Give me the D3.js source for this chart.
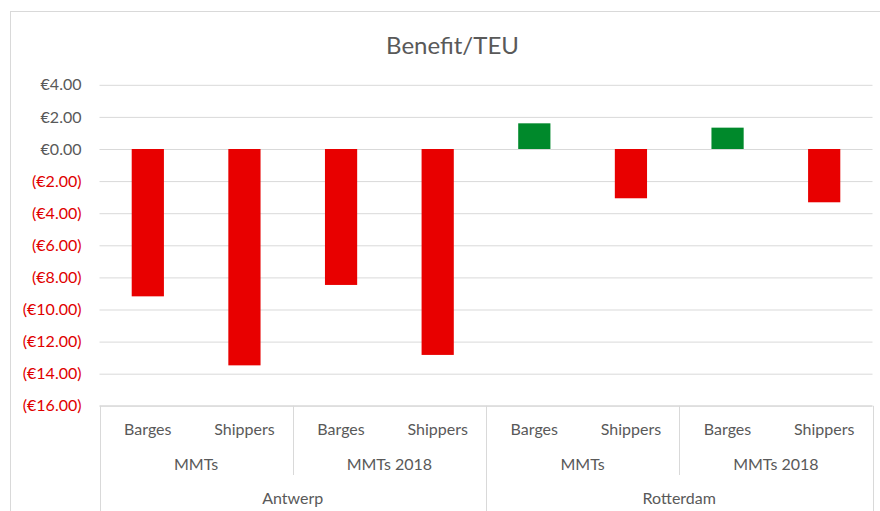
<!DOCTYPE html>
<html>
<head>
<meta charset="utf-8">
<script src="https://cdn.jsdelivr.net/npm/d3@7"></script>
<style>
  html, body { margin: 0; padding: 0; background: #fff; }
  svg { display: block; font-family: Lato, "Open Sans", sans-serif; }
</style>
</head>
<body>
<svg id="chart" width="880" height="511"></svg>
<script>
// ---- data ----
const title = "Benefit/TEU";
const ports = ["Antwerp", "Rotterdam"];
const programs = ["MMTs", "MMTs 2018"];
const actors = ["Barges", "Shippers"];
// values per port -> program -> actor
const antwerpMMTs = [-9.18, -13.48];
const antwerpMMTs2018 = [-8.47, -12.83];
const rotterdamMMTs = [1.60, -3.07];
const rotterdamMMTs2018 = [1.33, -3.32];
const yTicks = [4, 2, 0, -2, -4, -6, -8, -10, -12, -14, -16];

const valueTable = {
  "Antwerp": { "MMTs": antwerpMMTs, "MMTs 2018": antwerpMMTs2018 },
  "Rotterdam": { "MMTs": rotterdamMMTs, "MMTs 2018": rotterdamMMTs2018 }
};

const rows = [];
ports.forEach(p => programs.forEach(g => actors.forEach((a, i) => {
  rows.push({ port: p, program: g, actor: a, key: p + "|" + g + "|" + a, value: valueTable[p][g][i] });
})));

// ---- layout ----
const svg = d3.select("#chart");
const left = 99.5, right = 872.5;
const yTop = 84.8, yBottom = 405.8;
const bottomEdge = 511;

const x = d3.scaleBand()
  .domain(rows.map(d => d.key))
  .range([left, right])
  .paddingInner(2 / 3)
  .paddingOuter(1 / 3);

const y = d3.scaleLinear().domain([-16, 4]).range([yBottom, yTop]);

const gray = "#595959";
const red = "#e00000";
const gridColor = "#d9d9d9";

// chart border
svg.append("rect")
  .attr("x", 10.5).attr("y", 11.5)
  .attr("width", 880).attr("height", 520)
  .attr("fill", "none").attr("stroke", gridColor).attr("stroke-width", 1);

// title
svg.append("text")
  .attr("x", 452.5).attr("y", 53.5)
  .attr("text-anchor", "middle")
  .attr("font-size", 24)
  .attr("fill", gray)
  .text(title);

// y axis with gridlines
const fmt = v => v < 0 ? "(\u20AC" + Math.abs(v).toFixed(2) + ")" : "\u20AC" + v.toFixed(2);
const yAxis = d3.axisLeft(y)
  .tickValues(yTicks)
  .tickSize(-(right - left))
  .tickPadding(18)
  .tickFormat(fmt);

const gy = svg.append("g")
  .attr("transform", `translate(${left},0)`)
  .call(yAxis);
gy.select(".domain").remove();
gy.selectAll(".tick line").attr("stroke", gridColor).attr("stroke-width", 1);
gy.selectAll(".tick text")
  .attr("font-size", 16)
  .attr("font-family", "Lato, sans-serif")
  .attr("fill", d => d < 0 ? red : gray);

// bars
svg.append("g").selectAll("rect")
  .data(rows)
  .join("rect")
  .attr("x", d => x(d.key))
  .attr("width", x.bandwidth())
  .attr("y", d => y(Math.max(0, d.value)))
  .attr("height", d => Math.abs(y(d.value) - y(0)))
  .attr("fill", d => d.value >= 0 ? "#00892b" : "#e80000");

// category table
const step = x.step();
const gx = svg.append("g");
const lineAttr = sel => sel.attr("stroke", gridColor).attr("stroke-width", 1).attr("fill", "none");

// top line
lineAttr(gx.append("line").attr("x1", left).attr("x2", right).attr("y1", yBottom).attr("y2", yBottom));
// outer / port dividers (full height)
const portEdges = [left];
ports.forEach(p => {
  const keys = rows.filter(r => r.port === p).map(r => r.key);
  portEdges.push(x(keys[keys.length - 1]) + x.bandwidth() + step / 3);
});
portEdges.forEach(px => {
  lineAttr(gx.append("line").attr("x1", Math.round(px) + 0.5).attr("x2", Math.round(px) + 0.5)
    .attr("y1", yBottom).attr("y2", bottomEdge));
});
// program dividers (two rows)
const row1Y = 429.5, row2Y = 464, row3Y = 498.5;
ports.forEach(p => {
  programs.forEach((g, gi) => {
    const keys = rows.filter(r => r.port === p && r.program === g).map(r => r.key);
    const x0 = x(keys[0]) - step / 3;
    const x1 = x(keys[keys.length - 1]) + x.bandwidth() + step / 3;
    if (gi > 0) {
      lineAttr(gx.append("line").attr("x1", Math.round(x0) + 0.5).attr("x2", Math.round(x0) + 0.5)
        .attr("y1", yBottom).attr("y2", 475));
    }
    gx.append("text")
      .attr("x", (x0 + x1) / 2).attr("y", row2Y)
      .attr("dy", "0.35em")
      .attr("text-anchor", "middle").attr("font-size", 16).attr("fill", gray)
      .text(g);
  });
  const keys = rows.filter(r => r.port === p).map(r => r.key);
  const px0 = x(keys[0]) - step / 3;
  const px1 = x(keys[keys.length - 1]) + x.bandwidth() + step / 3;
  gx.append("text")
    .attr("x", (px0 + px1) / 2).attr("y", row3Y)
    .attr("dy", "0.35em")
    .attr("text-anchor", "middle").attr("font-size", 16).attr("fill", gray)
    .text(p);
});
// leaf labels
gx.selectAll("text.leaf")
  .data(rows)
  .join("text")
  .attr("class", "leaf")
  .attr("x", d => x(d.key) + x.bandwidth() / 2)
  .attr("y", row1Y)
  .attr("dy", "0.35em")
  .attr("text-anchor", "middle").attr("font-size", 16).attr("fill", gray)
  .text(d => d.actor);
</script>
</body>
</html>
